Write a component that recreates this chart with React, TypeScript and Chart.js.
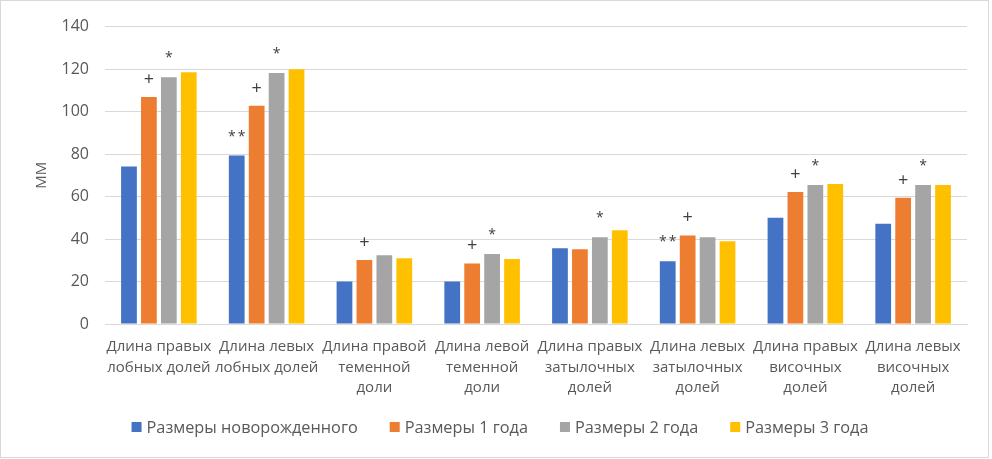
import React, { useEffect, useRef } from 'react';
import { Chart, registerables } from 'chart.js';

Chart.register(...registerables);

const categories: string[][] = [
  ['Длина правых', 'лобных долей'],
  ['Длина левых', 'лобных долей'],
  ['Длина правой', 'теменной', 'доли'],
  ['Длина левой', 'теменной', 'доли'],
  ['Длина правых', 'затылочных', 'долей'],
  ['Длина левых', 'затылочных', 'долей'],
  ['Длина правых', 'височных', 'долей'],
  ['Длина левых', 'височных', 'долей'],
];
const seriesNames = ['Размеры новорожденного', 'Размеры 1 года', 'Размеры 2 года', 'Размеры 3 года'];
const newborn = [74.2, 79.3, 20, 20, 35.7, 29.5, 50, 47.2];
const year1 = [106.9, 102.7, 30.1, 28.5, 35.2, 41.7, 62.1, 59.4];
const year2 = [116.2, 118.1, 32.4, 32.9, 40.8, 40.8, 65.4, 65.4];
const year3 = [118.5, 119.9, 31, 30.6, 44.1, 38.9, 65.9, 65.4];
const marksNewborn = ['', '**', '', '', '', '**', '', ''];
const marksYear1 = ['+', '+', '+', '+', '', '+', '+', '+'];
const marksYear2 = ['*', '*', '', '*', '*', '', '*', '*'];
const marksYear3 = ['', '', '', '', '', '', '', ''];
const yMin = 0;
const yMax = 140;
const yStep = 20;
const yTitle = 'ММ';

const colors = ['#4472C4', '#ED7D31', '#A5A5A5', '#FFC000'];
const FONT = "'Open Sans', sans-serif";
const TEXT = '#595959';

export default function App() {
  const ref = useRef<HTMLCanvasElement | null>(null);
  useEffect(() => {
    if (!ref.current) return;
    const series = [newborn, year1, year2, year3];
    const marks = [marksNewborn, marksYear1, marksYear2, marksYear3];

    const marksPlugin = {
      id: 'marks',
      afterDatasetsDraw(chart: any) {
        const ctx = chart.ctx;
        ctx.save();
        ctx.fillStyle = '#404040';
        ctx.textAlign = 'center';
        ctx.textBaseline = 'alphabetic';
        marks.forEach((arr, di) => {
          const meta = chart.getDatasetMeta(di);
          arr.forEach((m, i) => {
            if (!m) return;
            const el = meta.data[i];
            if (m.indexOf('+') >= 0) {
              ctx.font = `18px ${FONT}`;
              ctx.fillText(m, el.x, el.y - 12);
            } else {
              ctx.font = `14px ${FONT}`;
              const w = ctx.measureText('*').width;
              const n = m.length;
              const step = w + 2;
              for (let k = 0; k < n; k++) {
                ctx.fillText('*', el.x + (k - (n - 1) / 2) * step, el.y - 15);
              }
            }
          });
        });
        ctx.restore();
      },
    };

    const legendPlugin = {
      id: 'customLegend',
      afterDraw(chart: any) {
        const ctx = chart.ctx;
        ctx.save();
        ctx.font = `16.3px ${FONT}`;
        const box = 10;
        const gapBox = 5;
        const gapItem = 32;
        const widths = seriesNames.map((n) => ctx.measureText(n).width);
        const total = widths.reduce((a, w) => a + box + gapBox + w, 0) + gapItem * (seriesNames.length - 1);
        let x = 499 - total / 2;
        const cy = 426;
        ctx.textBaseline = 'middle';
        ctx.textAlign = 'left';
        seriesNames.forEach((n, i) => {
          ctx.fillStyle = colors[i];
          ctx.fillRect(x, cy - box / 2, box, box);
          x += box + gapBox;
          ctx.fillStyle = TEXT;
          ctx.fillText(n, x, cy + 1);
          x += widths[i] + gapItem;
        });
        ctx.restore();
      },
    };

    const chart = new Chart(ref.current, {
      type: 'bar',
      data: {
        labels: categories,
        datasets: series.map((d, i) => ({
          label: seriesNames[i],
          data: d,
          backgroundColor: colors[i],
          borderWidth: 0,
          categoryPercentage: 0.74,
          barPercentage: 0.79,
        })),
      },
      options: {
        animation: false,
        responsive: false,
        maintainAspectRatio: false,
        layout: { padding: { top: 23, right: 21, bottom: 48, left: 0 } },
        plugins: {
          legend: { display: false },
          tooltip: { enabled: false },
        },
        scales: {
          x: {
            grid: { display: false, drawTicks: false },
            border: { display: true, color: '#D9D9D9', width: 1 },
            ticks: {
              color: TEXT,
              font: { family: FONT, size: 15, lineHeight: 1.35 },
              padding: 13,
              maxRotation: 0,
              autoSkip: false,
            },
            afterFit(scale: any) {
              scale.height = 85;
            },
          },
          y: {
            min: yMin,
            max: yMax,
            grid: { color: '#D9D9D9', lineWidth: 1, drawTicks: false },
            border: { display: false },
            ticks: {
              stepSize: yStep,
              color: TEXT,
              font: { family: FONT, size: 16 },
              padding: 16,
            },
            title: {
              display: true,
              text: yTitle,
              color: TEXT,
              font: { family: FONT, size: 15 },
              padding: { top: 32, bottom: 0 },
            },
            afterFit(scale: any) {
              scale.width = 104;
            },
          },
        },
      },
      plugins: [marksPlugin, legendPlugin],
    });
    return () => chart.destroy();
  }, []);

  return (
    <div
      style={{
        position: 'absolute',
        left: 0,
        top: 0,
        width: 989,
        height: 458,
        border: '1px solid #D9D9D9',
        boxSizing: 'border-box',
        background: '#fff',
      }}
    >
      <canvas ref={ref} width={987} height={456} style={{ display: 'block', width: 987, height: 456 }} />
    </div>
  );
}
